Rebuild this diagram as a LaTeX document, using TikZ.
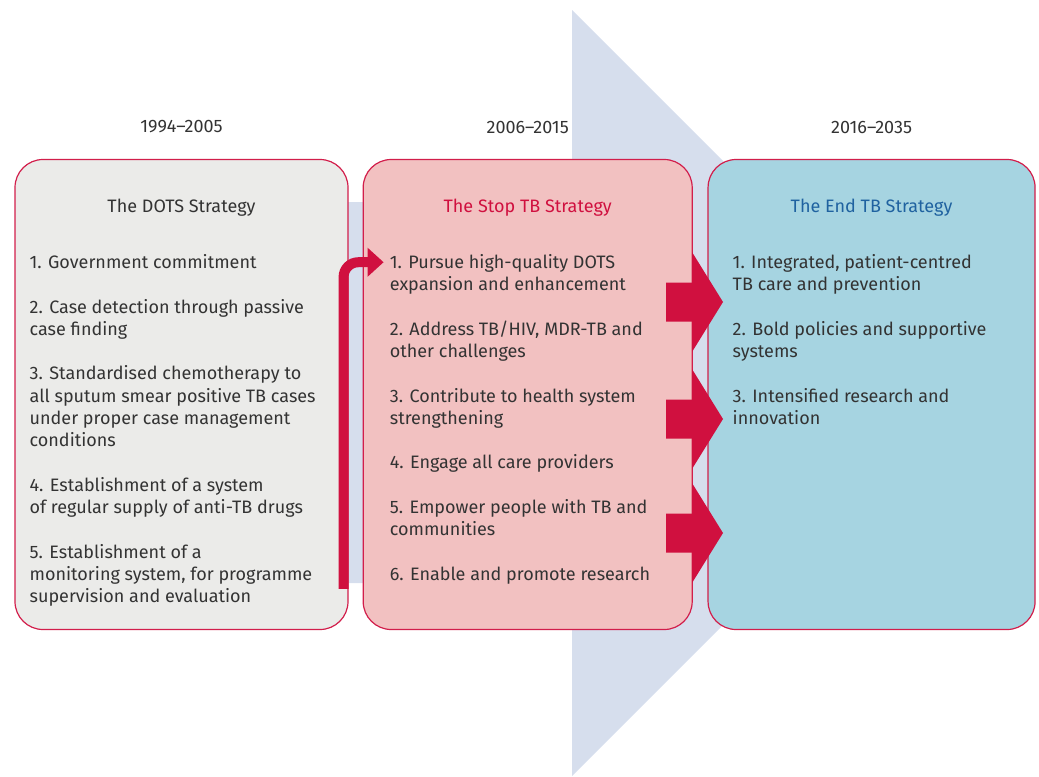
\documentclass[tikz,border=0pt]{standalone}
\usepackage{fontspec}
\setmainfont{Fira Sans}
\usetikzlibrary{positioning,arrows.meta}

\definecolor{boxline}{HTML}{D21E4B}
\definecolor{redfill}{HTML}{D0103F}
\definecolor{dotsfill}{HTML}{EBEBE9}
\definecolor{stopfill}{HTML}{F2C1C1}
\definecolor{endfill}{HTML}{A6D4E1}
\definecolor{backfill}{HTML}{D6DEED}
\definecolor{endtitle}{HTML}{1F62A0}
\definecolor{bodytext}{HTML}{333333}

\tikzset{
    strategy/.style={draw=boxline, line width=0.9pt, rounded corners=21pt, minimum height=352.5pt, inner sep=0pt},
    years/.style={inner sep=0pt, text=bodytext, font=\fontsize{13.5}{16.7}\selectfont},
    heading/.style={inner sep=0pt, font=\fontsize{13.5}{16.7}\selectfont},
    listtext/.style={inner sep=0pt, align=left, anchor=north west, text=bodytext, font=\fontsize{13.5}{16.7}\selectfont},
    flow/.style={draw=redfill, line width=7.5pt, rounded corners=11pt, -{Triangle[width=21pt,length=12pt]}}
}

\begin{document}
\begin{tikzpicture}[x=0.75pt, y=-0.75pt]
    \useasboundingbox (0,0) rectangle (1039,776);
    % big arrow in the background
    \fill[backfill] (200,202) -- (572,202) -- (572,10) -- (955,393) -- (572,776) -- (572,583) -- (200,583) -- cycle;

    \node (DOTS) [strategy, fill=dotsfill, minimum width=249.75pt] at (181.5,394.5) {};
    \node (StopTB) [strategy, fill=stopfill, minimum width=246.75pt, right=10.5pt of DOTS] {};
    \node (EndTB) [strategy, fill=endfill, minimum width=245.25pt, right=11pt of StopTB] {};

    \node (DOTSyears) [years, above=19pt of DOTS] {1994--2005};
    \node (StopTByears) [years, above=19pt of StopTB] {2006--2015};
    \node (EndTByears) [years, above=19pt of EndTB] {2016--2035};

    \node (DOTStitle) [heading, text=bodytext, below=30pt of DOTS.north] {The DOTS Strategy};
    \node (StopTBtitle) [heading, text=redfill, below=30pt of StopTB.north] {The Stop TB Strategy};
    \node (EndTBtitle) [heading, text=endtitle, below=30pt of EndTB.north] {The End TB Strategy};

    \node (DOTSlist) [listtext] at ([xshift=11.25pt,yshift=-71.5pt]DOTS.north west)
    {
        1. Government commitment\\[16.7pt]
        2. Case detection through passive\\
        case finding\\[16.7pt]
        3. Standardised chemotherapy to\\
        all sputum smear positive TB cases\\
        under proper case management\\
        conditions\\[16.7pt]
        4. Establishment of a system\\
        of regular supply of anti-TB drugs\\[16.7pt]
        5. Establishment of a\\
        monitoring system, for programme\\
        supervision and evaluation
    };
    \node (StopTBlist) [listtext] at ([xshift=20.25pt,yshift=-71.5pt]StopTB.north west)
    {
        1. Pursue high-quality DOTS\\
        expansion and enhancement\\[16.7pt]
        2. Address TB/HIV, MDR-TB and\\
        other challenges\\[16.7pt]
        3. Contribute to health system\\
        strengthening\\[16.7pt]
        4. Engage all care providers\\[16.7pt]
        5. Empower people with TB and\\
        communities\\[16.7pt]
        6. Enable and promote research
    };
    \node (EndTBlist) [listtext] at ([xshift=18.75pt,yshift=-71.5pt]EndTB.north west)
    {
        1. Integrated, patient-centred\\
        TB care and prevention\\[16.7pt]
        2. Bold policies and supportive\\
        systems\\[16.7pt]
        3. Intensified research and\\
        innovation
    };

    % from DOTS to Stop TB
    \draw[flow] ([xshift=-3.75pt,yshift=31pt]DOTS.south east) |- ([xshift=-4.5pt,yshift=-6pt]StopTBlist.north west);
    % from Stop TB to End TB
    \foreach \y in {302,419,533}
        \fill[redfill] (666,\y-19.5) -- (692,\y-19.5) -- (692,\y-50) -- (723,\y) -- (692,\y+50) -- (692,\y+19.5) -- (666,\y+19.5) -- cycle;
\end{tikzpicture}
\end{document}
